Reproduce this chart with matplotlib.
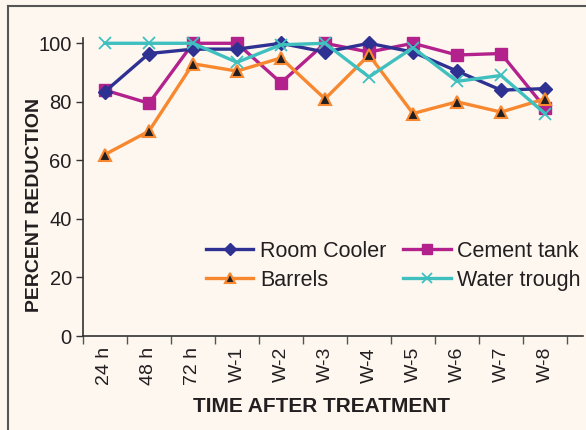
import numpy as np
import matplotlib
matplotlib.use('Agg')
import matplotlib.pyplot as plt
from matplotlib.lines import Line2D

plt.rcParams['font.family'] = ['Liberation Sans', 'DejaVu Sans']

times = ['24 h', '48 h', '72 h', 'W-1', 'W-2', 'W-3', 'W-4', 'W-5', 'W-6', 'W-7', 'W-8']

room_cooler = [83.5, 96.5, 98, 98, 100, 97, 100, 97, 90.5, 84, 84.5]
cement_tank = [84, 79.5, 100, 100, 86.5, 100, 97, 100, 96, 96.5, 78]
barrels = [62, 70, 93, 90.5, 95, 81, 96, 76, 80, 76.5, 81]
water_trough = [100, 100, 100, 93.5, 99.5, 100, 88.5, 98.5, 87, 89, 76]

bg = '#fdf7f0'
x = np.arange(len(times))

fig = plt.figure(figsize=(5.86, 4.30), dpi=100, facecolor=bg)
ax = fig.add_axes([0.1416, 0.2186, 0.853, 0.693], facecolor=bg)

l_cem, = ax.plot(x, cement_tank, color='#b3228c', lw=2.4, marker='s', ms=8,
                 mec='#b3228c', mfc='#b3228c', label='Cement tank', clip_on=False)
l_room, = ax.plot(x, room_cooler, color='#2e3192', lw=2.4, marker='D', ms=7.5,
                  mec='#2e3192', mfc='#2e3192', label='Room Cooler', clip_on=False)
l_bar, = ax.plot(x, barrels, color='#f7882f', lw=2.4, marker='^', ms=9,
                 mec='#f7882f', mfc='#231f20', mew=1.5, label='Barrels', clip_on=False)
l_wat, = ax.plot(x, water_trough, color='#40bfbf', lw=2.4, marker='x', ms=9,
                 mec='#40bfbf', mew=1.3, label='Water trough', clip_on=False)

ax.set_xlim(-0.5, 10.86)
ax.set_ylim(0, 101.8)
ax.set_yticks([0, 20, 40, 60, 80, 100])
ax.set_xticks(x)
ax.set_xticklabels(times, rotation=90)
ax.set_xticks(np.arange(-0.5, 11, 1), minor=True)
ax.tick_params(axis='x', which='major', length=0, pad=8, labelsize=14, labelcolor='#231f20')
ax.tick_params(axis='x', which='minor', length=6, width=1, color='#555555', direction='out')
ax.tick_params(axis='y', length=5, width=1, color='#333333', direction='out',
               pad=3, labelsize=14.5, labelcolor='#231f20')

for s in ['top', 'right']:
    ax.spines[s].set_visible(False)
for s in ['left', 'bottom']:
    ax.spines[s].set_color('#333333')
    ax.spines[s].set_linewidth(1.2)

ax.set_ylabel('PERCENT REDUCTION', fontsize=14, fontweight='bold', color='#231f20')
ax.yaxis.set_label_coords(-0.08, 0.44)
ax.set_xlabel('TIME AFTER TREATMENT', fontsize=15, fontweight='bold', color='#231f20')
ax.xaxis.set_label_coords(0.478, -0.205)

fig.legend(handles=[l_room, l_bar, l_cem, l_wat], ncol=2, frameon=False,
           loc='upper left', bbox_to_anchor=(206 / 586, 1 - 241 / 430),
           fontsize=15.5, handlelength=2.2, handletextpad=0.3, columnspacing=0.8,
           labelspacing=0.35, borderpad=0, borderaxespad=0, markerscale=0.85,
           labelcolor='#231f20')

# outer frame
fig.add_artist(Line2D([8 / 586, 8 / 586], [0, 1 - 6 / 430], transform=fig.transFigure,
                      color='#555555', lw=1.5))
fig.add_artist(Line2D([8 / 586, 1], [1 - 6 / 430, 1 - 6 / 430], transform=fig.transFigure,
                      color='#555555', lw=1.5))

fig.savefig('out.png', dpi=100, facecolor=bg)
